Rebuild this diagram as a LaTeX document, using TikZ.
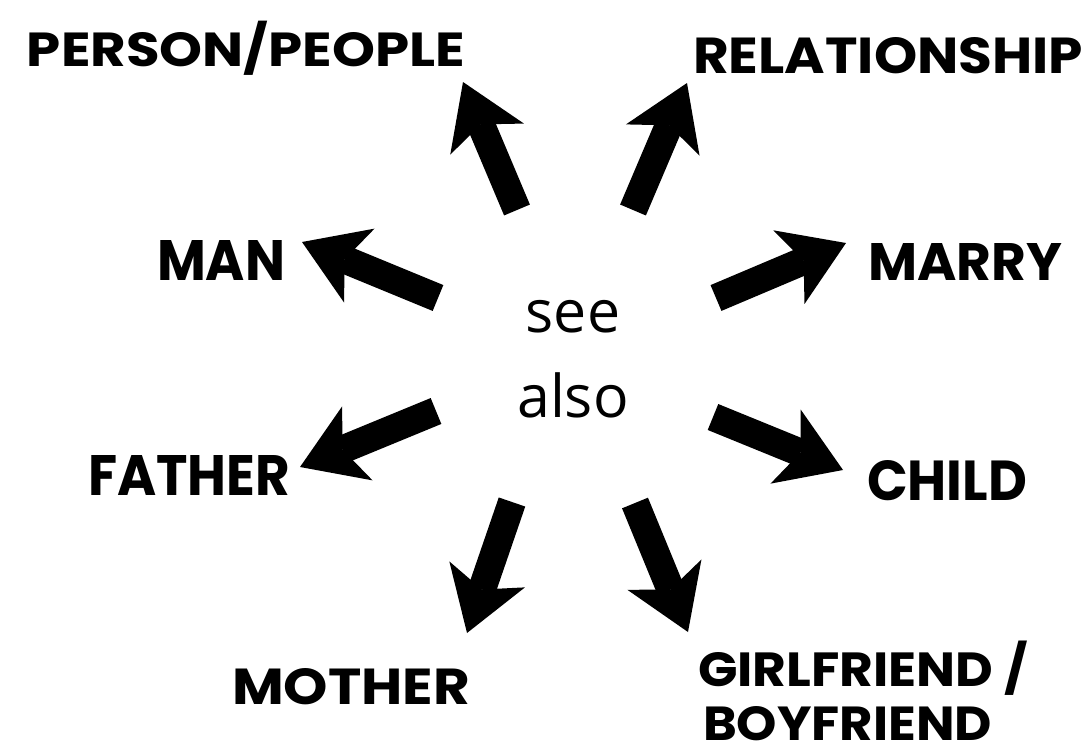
\documentclass[tikz,border=0pt]{standalone}
\usepackage{fontspec}
\setmainfont{Poppins}
\newfontfamily\seefont{Open Sans}
\usetikzlibrary{arrows.meta}
\newcommand{\lab}[3]{\resizebox{#1pt}{#2pt}{\bfseries #3}}
\newcommand{\myslash}{\smash{/}}
\tikzset{
  bigarrow/.style={line width=28pt, line cap=butt, black,
    -{Stealth[length=62pt,width=80pt,inset=16pt,line width=0pt]}},
  lbl/.style={anchor=base west, inner sep=0pt, outer sep=0pt},
  seetxt/.style={anchor=base, inner sep=0pt, font=\seefont\fontsize{59}{60}\selectfont}
}
\begin{document}
\begin{tikzpicture}[x=1pt,y=-1pt]
\useasboundingbox[fill=white] (0,0) rectangle (1090,755);
% centre text
\node[seetxt] (see) at (573,332) {see};
\node[seetxt] (also) at (573,417) {also};
% labels
\node[lbl] (person) at (27,66) {\lab{438}{34}{PERSON\myslash PEOPLE}};
\node[lbl] (relation) at (693,73) {\lab{390}{36}{RELATIONSHIP}};
\node[lbl] (man) at (157,280) {\lab{128}{40}{MAN}};
\node[lbl] (marry) at (868,280) {\lab{194}{37}{MARRY}};
\node[lbl] (father) at (88,495) {\lab{202}{40}{FATHER}};
\node[lbl] (child) at (867,500) {\lab{160}{40}{CHILD}};
\node[lbl] (mother) at (232,704) {\lab{238}{36}{MOTHER}};
\node[lbl] (girl) at (698,686) {\lab{330}{34}{GIRLFRIEND \myslash}};
\node[lbl] (boy) at (703,740) {\lab{289}{34}{BOYFRIEND}};
% arrow ends
\coordinate (t1) at (517,210); \coordinate (h1) at (463,82);
\coordinate (t2) at (633,210); \coordinate (h2) at (687,83);
\coordinate (t3) at (438,298); \coordinate (h3) at (302,242);
\coordinate (t4) at (716,298); \coordinate (h4) at (846,243);
\coordinate (t5) at (436,411); \coordinate (h5) at (300,467);
\coordinate (t6) at (713,417); \coordinate (h6) at (843,470);
\coordinate (t7) at (512,502); \coordinate (h7) at (467,633);
\coordinate (t8) at (635,503); \coordinate (h8) at (688,632);
\foreach \i in {1,...,8} {\draw[bigarrow] (t\i) -- (h\i);}
\end{tikzpicture}
\end{document}
